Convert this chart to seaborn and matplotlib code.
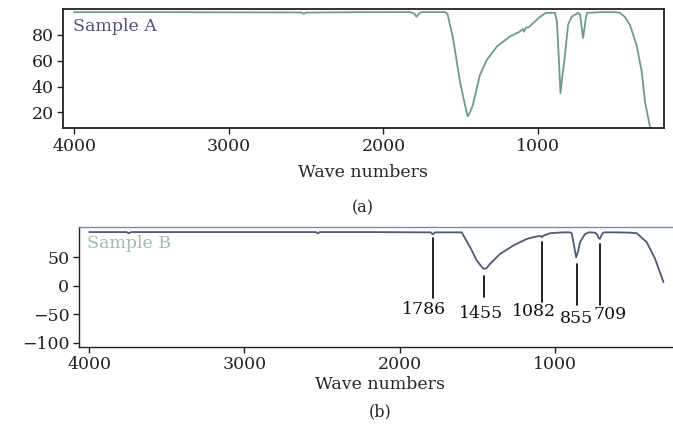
import numpy as np
import pandas as pd
import matplotlib
matplotlib.use("Agg")
import matplotlib.pyplot as plt
import seaborn as sns

# ---------------- data ----------------
wave_a = [4000, 3500, 3000, 2530, 2515, 2500, 2200, 1830, 1800, 1786, 1770, 1750,
          1600, 1585, 1550, 1505, 1473, 1455, 1440, 1421, 1376, 1331, 1266, 1182,
          1118, 1100, 1090, 1080, 1060, 1033, 987, 950, 890, 878, 865, 855, 846,
          826, 806, 783, 742, 729, 718, 709, 700, 690, 683, 600, 500, 471, 440,
          406, 363, 330, 309, 277]
trans_a = [97.5, 97.6, 97.4, 97.3, 96.3, 97.2, 97.5, 97.6, 96.5, 94.0, 96.5, 97.6,
           97.6, 96.0, 77.6, 44.0, 26.0, 17.0, 20.0, 26.0, 49.0, 60.7, 71.0, 78.7,
           82.5, 84.5, 82.5, 85.5, 86.0, 89.0, 94.0, 97.0, 97.0, 90.0, 60.0, 35.0, 45.0,
           64.5, 87.7, 94.0, 97.0, 96.0, 86.0, 77.5, 85.0, 94.0, 97.0, 97.5, 97.5, 97.0, 94.0,
           87.7, 72.0, 51.7, 28.5, 9.0]

wave_b = [4000, 3760, 3745, 3730, 3000, 2540, 2527, 2515, 2200, 1800, 1786, 1770,
          1600, 1545, 1503, 1459, 1440, 1417, 1353, 1266, 1180, 1115, 1090, 1082,
          1075, 1030, 946, 900, 890, 875, 862, 850, 837, 805, 780, 740, 725, 718,
          709, 700, 690, 680, 600, 520, 471, 407, 353, 299]
trans_b = [94.5, 94.5, 92.5, 94.5, 94.5, 94.5, 92.0, 94.5, 94.5, 94.0, 90.7, 94.0,
           94.0, 68.0, 44.5, 29.8, 31.0, 38.6, 56.0, 71.0, 82.5, 87.0, 87.5, 85.5,
           88.0, 92.5, 94.0, 94.0, 92.0, 70.0, 50.3, 60.0, 76.7, 91.0, 94.0, 93.5, 90.0, 84.0,
           82.5, 88.0, 93.0, 94.0, 94.0, 93.5, 92.5, 76.7, 47.4, 6.5]

peak_labels = ["1786", "1455", "1082", "855", "709"]
peak_pos = [1786, 1455, 1082, 855, 709]
peak_line_top = [84, 18, 77, 38.6, 73.7]
peak_line_bottom = [-21.6, -20, -28.6, -34, -34]
peak_text_x = [1842, 1476, 1133, 857, 640]
peak_text_y = [-26, -33, -30, -43, -35]

xticks = [4000, 3000, 2000, 1000]
yticks_a = [20, 40, 60, 80]
yticks_b = [-100, -50, 0, 50]

df_a = pd.DataFrame({"wave": wave_a, "T": trans_a})
df_b = pd.DataFrame({"wave": wave_b, "T": trans_b})

# ---------------- style ----------------
sns.set_theme(style="ticks")
plt.rcParams["font.family"] = ["DejaVu Serif"]
plt.rcParams["axes.edgecolor"] = "#222222"
plt.rcParams["xtick.color"] = "#222222"
plt.rcParams["ytick.color"] = "#222222"
FS = 12.5

fig = plt.figure(figsize=(6.73, 4.36), dpi=100)
ax1 = fig.add_axes([0.0941, 0.7064, 0.8925, 0.273])
ax2 = fig.add_axes([0.1174, 0.2048, 0.8945, 0.274])

# panel A
sns.lineplot(data=df_a, x="wave", y="T", ax=ax1, color="#72998f", linewidth=1.3,
             sort=False, estimator=None)
ax1.set_xlim(4069, 186)
ax1.set_ylim(8, 100)
ax1.set_xticks(xticks)
ax1.set_yticks(yticks_a)
ax1.set_xlabel("")
ax1.set_ylabel("")
ax1.tick_params(labelsize=FS, length=4, width=1, direction="out", pad=3)
for s in ax1.spines.values():
    s.set_linewidth(1.3)
ax1.text(0.016, 0.85, "Sample A", transform=ax1.transAxes, color="#4d5279",
         fontsize=FS, va="center", ha="left")

# panel B
sns.lineplot(data=df_b, x="wave", y="T", ax=ax2, color="#4f5a72", linewidth=1.3,
             sort=False, estimator=None)
ax2.set_xlim(4066, 186)
ax2.set_ylim(-107, 103)
ax2.set_xticks(xticks)
ax2.set_yticks(yticks_b)
ax2.set_xlabel("")
ax2.set_ylabel("")
ax2.tick_params(labelsize=FS, length=4, width=1, direction="out", pad=3)
for s in ax2.spines.values():
    s.set_linewidth(1.0)
ax2.spines["top"].set_color("#7f8aa0")
ax2.text(0.013, 0.868, "Sample B", transform=ax2.transAxes, color="#a3bcae",
         fontsize=FS, va="center", ha="left")

for lab, pos, top, bot, tx, ty in zip(peak_labels, peak_pos, peak_line_top,
                                      peak_line_bottom, peak_text_x, peak_text_y):
    ax2.plot([pos, pos], [top, bot], color="#111111", linewidth=1.3)
    ax2.text(tx, ty, lab, ha="center", va="top", fontsize=FS, color="#111111")

# axis titles and panel captions
fig.text(363 / 673, 1 - 172 / 436, "Wave numbers", ha="center", va="center", fontsize=FS)
fig.text(363 / 673, 1 - 208 / 436, "(a)", ha="center", va="center", fontsize=FS - 1)
fig.text(380 / 673, 1 - 384 / 436, "Wave numbers", ha="center", va="center", fontsize=FS)
fig.text(380 / 673, 1 - 412 / 436, "(b)", ha="center", va="center", fontsize=FS - 1)

fig.savefig("out.png", dpi=100)
